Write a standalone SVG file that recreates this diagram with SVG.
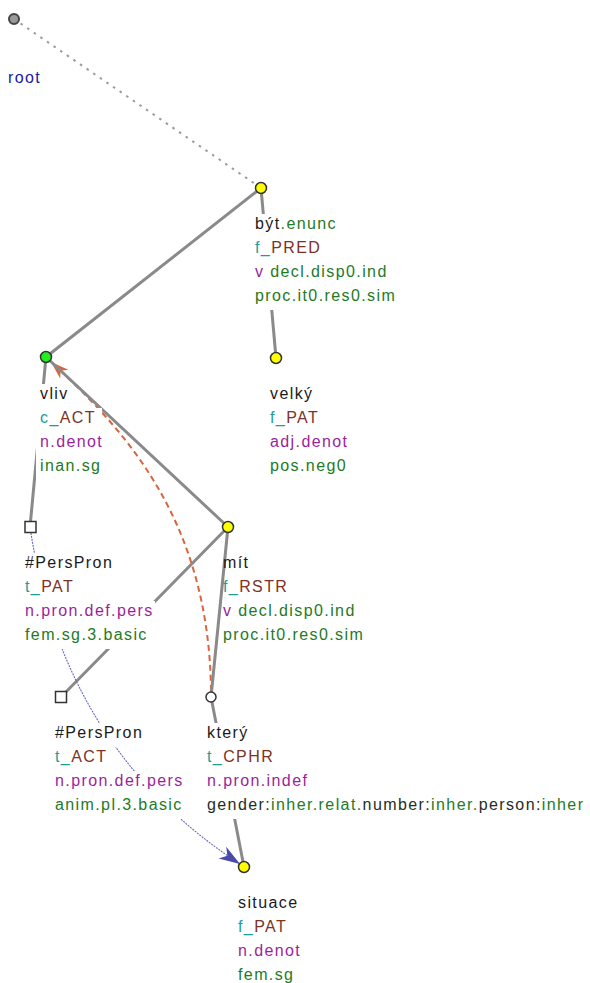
<svg xmlns="http://www.w3.org/2000/svg" width="590" height="983" viewBox="0 0 590 983">
<style>
text{font-family:"Liberation Sans",Arial,sans-serif;font-size:16px;letter-spacing:1.4px}
.bg{fill:#ffffff}
.nm{fill:#1a1a1a}
.gr{fill:#237a23}
.tl{fill:#1c9c9c}
.br{fill:#7d3226}
.pu{fill:#9b1f9b}
.rt{fill:#2020a0}
.dk{fill:#1e2e1e}
.edge{stroke:#8a8a8a;stroke-width:3;fill:none;stroke-linecap:round}
.rootedge{stroke:#9a9a9a;stroke-width:2;fill:none;stroke-dasharray:2.5,5.5}
.coref{stroke:#6a6ac0;stroke-width:1.1;fill:none;stroke-dasharray:2,1}
.gram{stroke:#d9653f;stroke-width:2;fill:none;stroke-dasharray:6,4}
.yel{fill:#ffff00;stroke:#333;stroke-width:1.5}
.wht{fill:#ffffff;stroke:#333;stroke-width:1.5}
</style>
<defs>
<marker id="arrOrange" markerUnits="userSpaceOnUse" orient="auto" overflow="visible" markerWidth="1" markerHeight="1" refX="0" refY="0"><path d="M0,0 L-18,-6 L-13,0 L-18,6 z" fill="#d9653f"/></marker>
<marker id="arrBlue" markerUnits="userSpaceOnUse" orient="auto" overflow="visible" markerWidth="1" markerHeight="1" refX="0" refY="0"><path d="M0,0 L-21,-7 L-15,0 L-21,7 z" fill="#4a4aa8"/></marker>
</defs>
<g id="connectors">
<line class="rootedge" x1="14" y1="19" x2="261" y2="188"/>
<path class="gram" d="M211,691 C209,520 125,430 51,362" marker-end="url(#arrOrange)"/>
<line class="edge" x1="261" y1="188" x2="46" y2="357"/>
<line class="edge" x1="261" y1="188" x2="276" y2="358"/>
<line class="edge" x1="46" y1="357" x2="30" y2="527"/>
<line class="edge" x1="228" y1="527" x2="46" y2="357"/>
<line class="edge" x1="228" y1="527" x2="61" y2="697"/>
<line class="edge" x1="228" y1="527" x2="211" y2="697"/>
<line class="edge" x1="211" y1="697" x2="244" y2="867"/>
<path class="coref" d="M30,527 Q63,749 240,864" marker-end="url(#arrBlue)"/>
</g>
<g id="n-root">
<circle cx="14" cy="19" r="5" fill="#999" stroke="#444" stroke-width="2"/>
<text x="8" y="83" class="rt">root</text>
</g>
<g id="n-byt">
<rect class="bg" x="253" y="214" width="87" height="24"/>
<rect class="bg" x="253" y="238" width="73" height="24"/>
<rect class="bg" x="253" y="262" width="136" height="24"/>
<rect class="bg" x="253" y="286" width="144" height="24"/>
<circle class="yel" cx="261" cy="188" r="5.5"/>
<text x="255" y="229"><tspan class="nm">být</tspan><tspan class="gr">.enunc</tspan></text>
<text x="255" y="253"><tspan class="tl">f_</tspan><tspan class="br">PRED</tspan></text>
<text x="255" y="277"><tspan class="pu">v</tspan><tspan class="gr"> decl.disp0.ind</tspan></text>
<text x="255" y="301" class="gr">proc.it0.res0.sim</text>
</g>
<g id="n-velky">
<rect class="bg" x="268" y="384" width="52" height="24"/>
<rect class="bg" x="268" y="408" width="57" height="24"/>
<rect class="bg" x="268" y="432" width="83" height="24"/>
<rect class="bg" x="268" y="456" width="76" height="24"/>
<circle class="yel" cx="276" cy="358" r="5.5"/>
<text x="270" y="399" class="nm">velký</text>
<text x="270" y="423"><tspan class="tl">f_</tspan><tspan class="br">PAT</tspan></text>
<text x="270" y="447" class="pu">adj.denot</text>
<text x="270" y="471" class="gr">pos.neg0</text>
</g>
<g id="n-vliv">
<rect class="bg" x="36" y="384" width="35" height="24"/>
<rect class="bg" x="36" y="408" width="66" height="24"/>
<rect class="bg" x="36" y="432" width="70" height="24"/>
<rect class="bg" x="36" y="456" width="69" height="24"/>
<circle cx="46" cy="357" r="5.5" fill="#22ee22" stroke="#333" stroke-width="1.5"/>
<text x="40" y="399" class="nm">vliv</text>
<text x="40" y="423"><tspan class="tl">c_</tspan><tspan class="br">ACT</tspan></text>
<text x="40" y="447" class="pu">n.denot</text>
<text x="40" y="471" class="gr">inan.sg</text>
</g>
<g id="n-perspron1">
<rect class="bg" x="22" y="553" width="93" height="24"/>
<rect class="bg" x="22" y="577" width="57" height="24"/>
<rect class="bg" x="22" y="601" width="133" height="24"/>
<rect class="bg" x="22" y="625" width="128" height="24"/>
<rect class="wht" x="25" y="521.5" width="11" height="11"/>
<text x="25" y="568" class="nm">#PersPron</text>
<text x="25" y="592"><tspan class="tl">t_</tspan><tspan class="br">PAT</tspan></text>
<text x="25" y="616" class="pu">n.pron.def.pers</text>
<text x="25" y="640" class="gr">fem.sg.3.basic</text>
</g>
<g id="n-mit">
<rect class="bg" x="228" y="553" width="24" height="24"/>
<rect class="bg" x="228" y="577" width="64" height="24"/>
<rect class="bg" x="228" y="601" width="129" height="24"/>
<rect class="bg" x="228" y="625" width="135" height="24"/>
<circle class="yel" cx="228" cy="527" r="5.5"/>
<text x="223" y="568" class="nm">mít</text>
<text x="223" y="592"><tspan class="tl">f_</tspan><tspan class="br">RSTR</tspan></text>
<text x="223" y="616"><tspan class="pu">v</tspan><tspan class="gr"> decl.disp0.ind</tspan></text>
<text x="223" y="640" class="gr">proc.it0.res0.sim</text>
</g>
<g id="n-perspron2">
<rect class="bg" x="52" y="723" width="95" height="24"/>
<rect class="bg" x="52" y="747" width="62" height="24"/>
<rect class="bg" x="52" y="771" width="135" height="24"/>
<rect class="bg" x="52" y="795" width="132" height="24"/>
<rect class="wht" x="55.5" y="691.5" width="11" height="11"/>
<text x="55" y="738" class="nm">#PersPron</text>
<text x="55" y="762"><tspan class="tl">t_</tspan><tspan class="br">ACT</tspan></text>
<text x="55" y="786" class="pu">n.pron.def.pers</text>
<text x="55" y="810" class="gr">anim.pl.3.basic</text>
</g>
<g id="n-ktery">
<rect class="bg" x="204" y="723" width="47" height="24"/>
<rect class="bg" x="204" y="747" width="77" height="24"/>
<rect class="bg" x="204" y="771" width="107" height="24"/>
<rect class="bg" x="204" y="795" width="385" height="24"/>
<circle class="wht" cx="211" cy="697" r="5"/>
<text x="207" y="738" class="nm">který</text>
<text x="207" y="762"><tspan class="tl">t_</tspan><tspan class="br">CPHR</tspan></text>
<text x="207" y="786" class="pu">n.pron.indef</text>
<text x="207" y="810"><tspan class="dk">gender:</tspan><tspan class="gr">inher.relat.</tspan><tspan class="dk">number:</tspan><tspan class="gr">inher.</tspan><tspan class="dk">person:</tspan><tspan class="gr">inher</tspan></text>
</g>
<g id="n-situace">
<rect class="bg" x="235" y="893" width="67" height="24"/>
<rect class="bg" x="235" y="917" width="57" height="24"/>
<rect class="bg" x="235" y="941" width="68" height="24"/>
<rect class="bg" x="235" y="965" width="63" height="18"/>
<circle class="yel" cx="244" cy="867" r="5.5"/>
<text x="238" y="908" class="nm">situace</text>
<text x="238" y="932"><tspan class="tl">f_</tspan><tspan class="br">PAT</tspan></text>
<text x="238" y="956" class="pu">n.denot</text>
<text x="238" y="980" class="gr">fem.sg</text>
</g>
</svg>
